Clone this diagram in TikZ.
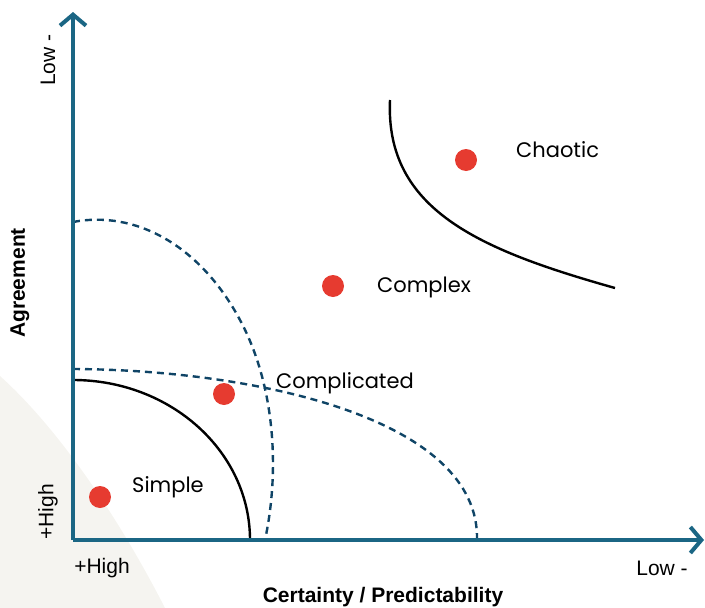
\documentclass[tikz,border=0pt]{standalone}
\usepackage{fontspec}
\setmainfont{Poppins}
\newfontfamily\axisfont{Liberation Sans}
\usetikzlibrary{arrows.meta,positioning}

\definecolor{axisblue}{HTML}{1B6684}
\definecolor{dashblue}{HTML}{0F4466}
\definecolor{dotred}{HTML}{E63B30}
\definecolor{paper}{HTML}{F5F4F0}

\begin{document}
\begin{tikzpicture}[
  x=1pt, y=-1pt,
  axis/.style={draw=axisblue, line width=4.5pt, -{Straight Barb[length=11pt,width=26pt,line width=4pt]}},
  border/.style={draw=dashblue, line width=2.4pt, dash pattern=on 7pt off 5pt},
  limit/.style={draw=black, line width=2.4pt},
  spot/.style={circle, fill=dotred, inner sep=0pt, minimum size=22pt},
  zonelabel/.style={font=\fontsize{21}{25}\selectfont, anchor=west, inner sep=0pt},
  endlabel/.style={font=\axisfont\fontsize{21}{25}\selectfont, inner sep=0pt},
  axislabel/.style={font=\axisfont\bfseries\fontsize{21}{25}\selectfont, inner sep=0pt},
  ]
  \useasboundingbox (0,0) rectangle (705,608);
  % paper corner
  \fill[paper] (0,376) .. controls (60,430) and (120,520) .. (165,608) -- (0,608) -- cycle;

  \coordinate (O) at (73,540);
  \coordinate (ytip) at (73,12);
  \coordinate (xtip) at (704,540);

  % domain borders
  \draw[limit] (73,380) arc[start angle=90, end angle=0, x radius=177, y radius=-160];
  \draw[border] (73,222) .. controls (135,210) and (200,245) .. (240,320)
    .. controls (275,385) and (280,470) .. (265,540);
  \draw[border] (73,369) .. controls (260,370) and (480,420) .. (477,540);
  \draw[limit] (390,100) .. controls (385,210) and (480,250) .. (615,288);

  % axes
  \draw[axis] (O) -- (ytip);
  \draw[axis] (O) -- (xtip);

  % domains
  \node[spot] (simple) at (100,497) {};
  \node[spot] (complicated) at (224,394) {};
  \node[spot] (complex) at (333,286) {};
  \node[spot] (chaotic) at (466,160) {};
  \node[zonelabel] (simplelabel) at (132,487) {Simple};
  \node[zonelabel] (complicatedlabel) at (276,383) {Complicated};
  \node[zonelabel] (complexlabel) at (377,287) {Complex};
  \node[zonelabel] (chaoticlabel) at (516,150) {Chaotic};

  % axis labels
  \node[endlabel, rotate=90] (ylow) at (48,60) {Low -};
  \node[endlabel, rotate=90] (yhigh) at (48,512) {+High};
  \node[axislabel, rotate=90] (ytitle) at (20,283) {Agreement};
  \node[endlabel] (xhigh) at (102,568) {+High};
  \node[endlabel] (xlow) at (662,568) {Low -};
  \node[axislabel] (xtitle) at (383,597) {Certainty / Predictability};
\end{tikzpicture}
\end{document}
